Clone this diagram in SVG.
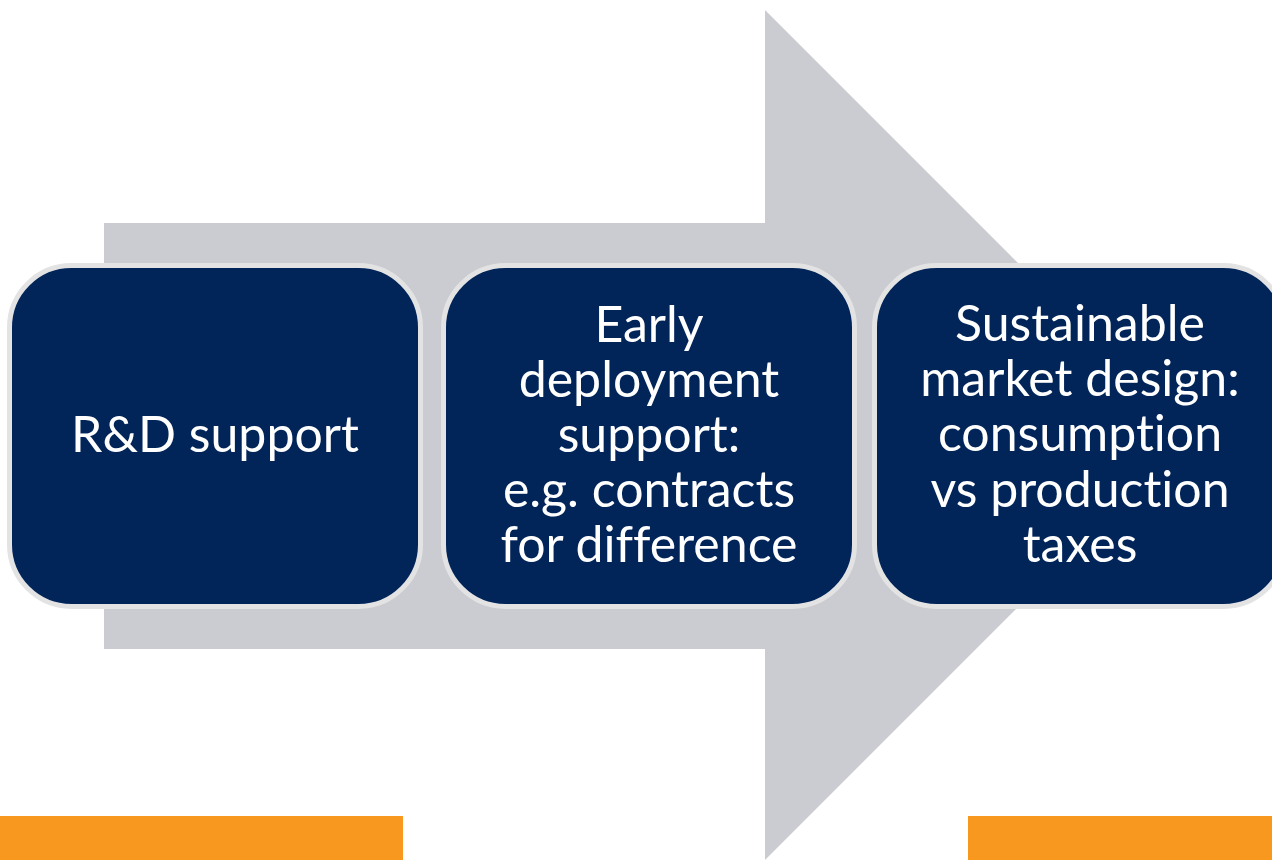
<svg xmlns="http://www.w3.org/2000/svg" width="1272" height="860" viewBox="0 0 1272 860">
  <style>
    .box { fill: #012459; stroke: #e3e3e4; stroke-width: 5; }
    .lbl { font-family: Lato, "Liberation Sans", sans-serif; font-size: 50px; fill: #ffffff; text-anchor: middle; font-variant-ligatures: none; }
    .bar { fill: #f8981e; }
  </style>
  <rect width="1272" height="860" fill="#ffffff"/>
  <g id="arrow">
    <polygon points="104,223 765,223 765,10 1190,435 765,860 765,649 104,649" fill="#cbccd1"/>
  </g>
  <g id="connectors"></g>
  <g id="node-rd">
    <rect class="box" x="9.5" y="265.5" width="411" height="341" rx="62"/>
    <text class="lbl" x="215" y="452">R&amp;D support</text>
  </g>
  <g id="node-early">
    <rect class="box" x="443.5" y="265.5" width="411" height="341" rx="62"/>
    <text class="lbl" x="649" y="342">Early</text>
    <text class="lbl" x="649" y="397">deployment</text>
    <text class="lbl" x="649" y="452">support:</text>
    <text class="lbl" x="649" y="507">e.g. contracts</text>
    <text class="lbl" x="649" y="562">for difference</text>
  </g>
  <g id="node-market">
    <rect class="box" x="874.5" y="265.5" width="411" height="341" rx="62"/>
    <text class="lbl" x="1080" y="341">Sustainable</text>
    <text class="lbl" x="1080" y="396">market design:</text>
    <text class="lbl" x="1080" y="451">consumption</text>
    <text class="lbl" x="1080" y="507">vs production</text>
    <text class="lbl" x="1080" y="562">taxes</text>
  </g>
  <g id="bars">
    <rect class="bar" x="0" y="816" width="403" height="44"/>
    <rect class="bar" x="968" y="816" width="304" height="44"/>
  </g>
</svg>
